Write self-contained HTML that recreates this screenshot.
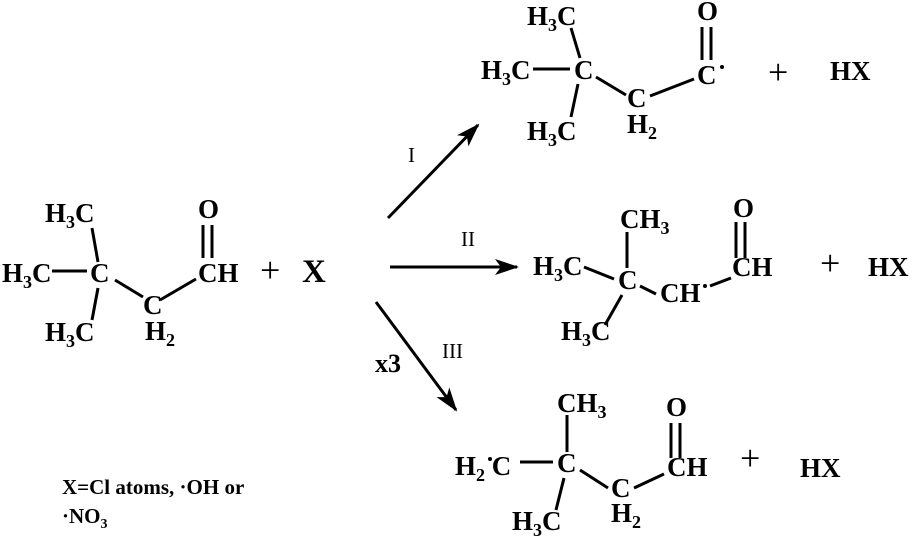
<!DOCTYPE html>
<html><head><meta charset="utf-8"><style>
html,body{margin:0;padding:0;background:#fff;}
svg{display:block;}
text{font-family:"Liberation Serif",serif;font-weight:bold;font-size:27px;fill:#000;}
.s{font-size:18px;}
.r{font-weight:normal;font-size:21px;}
.n{font-size:21px;}
.p{font-weight:normal;font-size:36px;}
line{stroke:#000;stroke-width:3;}
</style></head><body>
<svg width="920" height="540" viewBox="0 0 920 540" xmlns="http://www.w3.org/2000/svg">
<defs>
<marker id="a" viewBox="0 0 24 16" refX="22" refY="8" markerWidth="24" markerHeight="16" markerUnits="userSpaceOnUse" orient="auto">
<path d="M0,0 L24,8 L0,16 L6,8 Z" fill="#000"/></marker>
</defs>

<!-- Reactant -->
<text x="45" y="222">H<tspan class="s" dy="6">3</tspan><tspan dy="-6">C</tspan></text>
<text x="2" y="282">H<tspan class="s" dy="6">3</tspan><tspan dy="-6">C</tspan></text>
<text x="90" y="282">C</text>
<text x="45" y="341">H<tspan class="s" dy="6">3</tspan><tspan dy="-6">C</tspan></text>
<text x="143" y="314">C</text>
<text x="145" y="340">H<tspan class="s" dy="6">2</tspan></text>
<text x="198" y="282">CH</text>
<text x="198" y="218">O</text>
<line x1="203" y1="225" x2="203" y2="258"/><line x1="212" y1="225" x2="212" y2="258"/>
<line x1="52" y1="271" x2="87" y2="271"/>
<line x1="92" y1="228" x2="98" y2="262"/>
<line x1="98" y1="288" x2="92" y2="320"/>
<line x1="115" y1="280" x2="143" y2="297"/>
<line x1="160" y1="300" x2="196" y2="279"/>
<text x="260" y="282" class="p">+</text>
<text x="302" y="282" style="font-size:33px">X</text>

<!-- Arrows -->
<line x1="388" y1="218" x2="478" y2="125" marker-end="url(#a)"/>
<line x1="390" y1="267" x2="517" y2="267" marker-end="url(#a)"/>
<line x1="376" y1="302" x2="456" y2="410" marker-end="url(#a)"/>
<text x="408" y="162" class="r">I</text>
<text x="461" y="246" class="r">II</text>
<text x="442" y="358" class="r">III</text>
<text x="375" y="372" style="font-size:26px">x3</text>

<!-- Product I -->
<text x="527" y="25">H<tspan class="s" dy="6">3</tspan><tspan dy="-6">C</tspan></text>
<text x="481" y="79">H<tspan class="s" dy="6">3</tspan><tspan dy="-6">C</tspan></text>
<text x="574" y="79">C</text>
<text x="527" y="140">H<tspan class="s" dy="6">3</tspan><tspan dy="-6">C</tspan></text>
<text x="627" y="107">C</text>
<text x="627" y="133">H<tspan class="s" dy="6">2</tspan></text>
<text x="697" y="84">C</text>
<circle cx="722" cy="67" r="2" fill="#000"/>
<text x="697" y="20">O</text>
<line x1="702" y1="27" x2="702" y2="60"/><line x1="711" y1="27" x2="711" y2="60"/>
<line x1="533" y1="69" x2="570" y2="69"/>
<line x1="571" y1="28" x2="580" y2="58"/>
<line x1="578" y1="84" x2="571" y2="117"/>
<line x1="596" y1="77" x2="626" y2="95"/>
<line x1="650" y1="96" x2="694" y2="79"/>
<text x="768" y="84" class="p">+</text>
<text x="830" y="80">HX</text>

<!-- Product II -->
<text x="620" y="228">CH<tspan class="s" dy="6">3</tspan></text>
<text x="533" y="275">H<tspan class="s" dy="6">3</tspan><tspan dy="-6">C</tspan></text>
<text x="618" y="289">C</text>
<text x="660" y="302">CH</text>
<circle cx="705" cy="286" r="2" fill="#000"/>
<text x="732" y="276">CH</text>
<text x="733" y="217">O</text>
<text x="561" y="340">H<tspan class="s" dy="6">3</tspan><tspan dy="-6">C</tspan></text>
<line x1="736" y1="222" x2="736" y2="258"/><line x1="745" y1="222" x2="745" y2="258"/>
<line x1="584" y1="267" x2="614" y2="279"/>
<line x1="627" y1="232" x2="627" y2="268"/>
<line x1="622" y1="295" x2="605" y2="325"/>
<line x1="640" y1="286" x2="656" y2="294"/>
<line x1="710" y1="286" x2="731" y2="278"/>
<text x="820" y="275" class="p">+</text>
<text x="868" y="276">HX</text>

<!-- Product III -->
<text x="557" y="412">CH<tspan class="s" dy="6">3</tspan></text>
<text x="455" y="475">H<tspan class="s" dy="6">2</tspan><tspan dy="-6"> C</tspan></text>
<circle cx="490" cy="459" r="2" fill="#000"/>
<text x="557" y="472">C</text>
<text x="611" y="497">C</text>
<text x="611" y="522">H<tspan class="s" dy="6">2</tspan></text>
<text x="512" y="530">H<tspan class="s" dy="6">3</tspan><tspan dy="-6">C</tspan></text>
<text x="667" y="476">CH</text>
<text x="666" y="416">O</text>
<line x1="671" y1="423" x2="671" y2="458"/><line x1="680" y1="423" x2="680" y2="458"/>
<line x1="520" y1="462" x2="553" y2="462"/>
<line x1="567" y1="415" x2="567" y2="452"/>
<line x1="564" y1="478" x2="556" y2="510"/>
<line x1="580" y1="470" x2="608" y2="488"/>
<line x1="634" y1="488" x2="664" y2="474"/>
<text x="740" y="470" class="p">+</text>
<text x="800" y="477">HX</text>

<!-- Footnote -->
<text x="62" y="494" class="n">X=Cl atoms, ·OH or</text>
<text x="62" y="523" class="n">·NO<tspan style="font-size:14px" dy="5">3</tspan></text>
</svg>
</body></html>
